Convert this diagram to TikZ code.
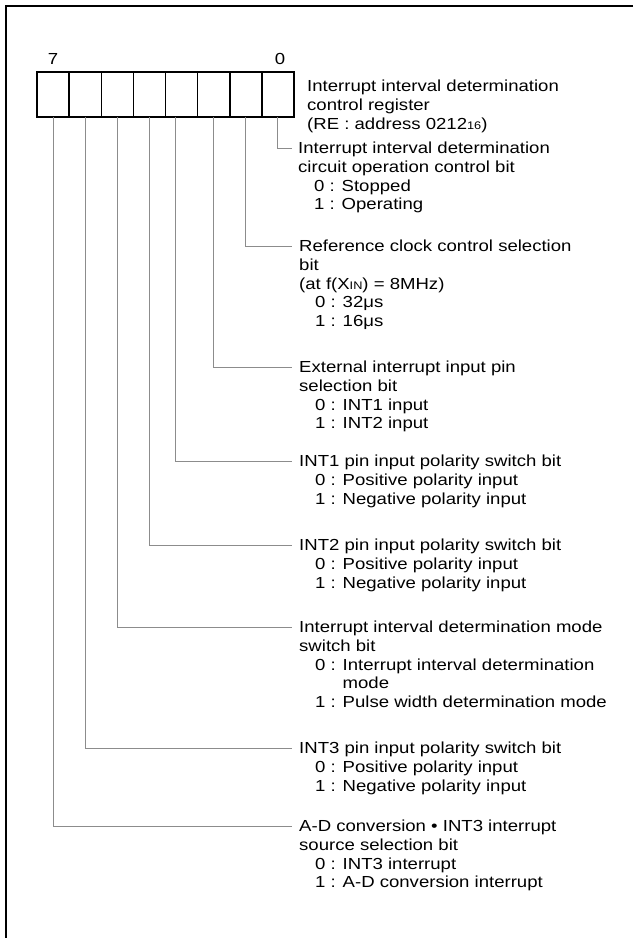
\documentclass[tikz,border=0pt]{standalone}
\usepackage{fontspec}
\setmainfont{Liberation Sans}[FakeStretch=1.16]
\usetikzlibrary{positioning}

\tikzset{
  cell/.style={draw,line width=1.5pt,minimum width=32.125pt,minimum height=45pt,inner sep=0pt,outer sep=0pt},
  leader/.style={draw=black!45,line width=1pt},
  desc/.style={anchor=north west,align=left,inner sep=0pt,execute at begin node=\strut,font=\fontsize{16}{18.7}\selectfont},
}
\newcommand{\opt}[1]{\hspace*{16pt}#1}
\newcommand{\lowtxt}[1]{{\fontsize{11}{10}\selectfont #1}}

\begin{document}
\begin{tikzpicture}[x=1pt,y=-1pt]
    \useasboundingbox (0,0) rectangle (633,938);
    \draw[line width=2.5pt] (633,6) -- (6,6) -- (6,938);

    % register cells, bit 7 on the left
    \foreach \i in {0,...,7}
        \node[cell] (c\i) at ({37+(7-\i+0.5)*32.125},94.5) {};
    \node[desc,anchor=base] (msb) at (53,64) {7};
    \node[desc,anchor=base] (lsb) at (280,64) {0};
    \node[desc] (title) at (307,80) {Interrupt interval determination\\control register\\(RE : address 0212\lowtxt{16})};

    \coordinate (l0) at (292,148);
    \coordinate (l1) at (292,246);
    \coordinate (l2) at (292,367);
    \coordinate (l3) at (292,461);
    \coordinate (l4) at (292,545);
    \coordinate (l5) at (292,627);
    \coordinate (l6) at (292,748);
    \coordinate (l7) at (292,826);

    \node[desc] (b0) at (298,142) {Interrupt interval determination\\circuit operation control bit\\\opt{0 : Stopped}\\\opt{1 : Operating}};
    \node[desc] (b1) at (299,240) {Reference clock control selection\\bit\\(at f(X\lowtxt{IN}) = 8MHz)\\\opt{0 : 32μs}\\\opt{1 : 16μs}};
    \node[desc] (b2) at (299,361) {External interrupt input pin\\selection bit\\\opt{0 : INT1 input}\\\opt{1 : INT2 input}};
    \node[desc] (b3) at (299,455) {INT1 pin input polarity switch bit\\\opt{0 : Positive polarity input}\\\opt{1 : Negative polarity input}};
    \node[desc] (b4) at (299,539) {INT2 pin input polarity switch bit\\\opt{0 : Positive polarity input}\\\opt{1 : Negative polarity input}};
    \node[desc] (b5) at (299,621) {Interrupt interval determination mode\\switch bit\\\opt{0 : Interrupt interval determination}\\\opt{\phantom{0 : }mode}\\\opt{1 : Pulse width determination mode}};
    \node[desc] (b6) at (299,742) {INT3 pin input polarity switch bit\\\opt{0 : Positive polarity input}\\\opt{1 : Negative polarity input}};
    \node[desc] (b7) at (299,820) {A-D conversion • INT3 interrupt\\source selection bit\\\opt{0 : INT3 interrupt}\\\opt{1 : A-D conversion interrupt}};

    \draw[leader] (c0.south) |- (l0);
    \draw[leader] (c1.south) |- (l1);
    \draw[leader] (c2.south) |- (l2);
    \draw[leader] ([xshift=-6pt]c3.south) |- (l3);
    \draw[leader] (c4.south) |- (l4);
    \draw[leader] (c5.south) |- (l5);
    \draw[leader] (c6.south) |- (l6);
    \draw[leader] (c7.south) |- (l7);
\end{tikzpicture}
\end{document}
